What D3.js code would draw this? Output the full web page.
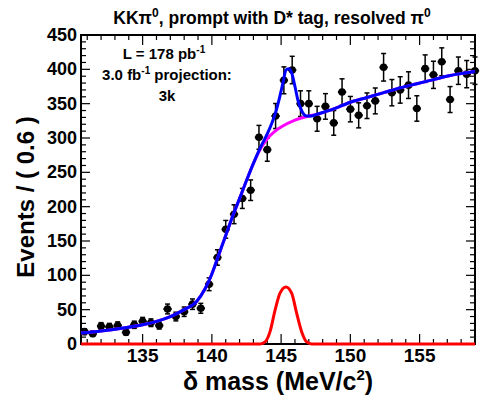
<!DOCTYPE html>
<html>
<head>
<meta charset="utf-8">
<script src="https://cdn.jsdelivr.net/npm/d3@7"></script>
<style>
  body { margin: 0; background: #fff; }
  svg { display: block; font-family: "Liberation Sans", Arial, Helvetica, sans-serif; font-weight: bold; }
</style>
</head>
<body>
<div id="chart"></div>
<script>
// bin centres (MeV) and event counts per 0.6 MeV bin
const binCenters = [130.8, 131.4, 132.0, 132.6, 133.2, 133.8, 134.4, 135.0, 135.6, 136.2,
  136.8, 137.4, 138.0, 138.6, 139.2, 139.8, 140.4, 141.0, 141.6, 142.2,
  142.8, 143.4, 144.0, 144.6, 145.2, 145.8, 146.4, 147.0, 147.6, 148.2,
  148.8, 149.4, 150.0, 150.6, 151.2, 151.8, 152.4, 153.0, 153.6, 154.2,
  154.8, 155.4, 156.0, 156.6, 157.2, 157.8, 158.4, 159.0];
const counts = [18, 15, 26, 25, 27, 17, 28, 33, 31, 27,
  51, 40, 47, 58, 52, 87, 126, 167, 189, 212,
  224, 301, 283, 332, 384, 399, 350, 350, 328, 346,
  322, 367, 342, 333, 347, 354, 403, 366, 370, 377,
  343, 401, 392, 411, 356, 398, 393, 398];

// background curve (magenta)
const bkgX = [130.55, 132, 133.5, 135, 136, 137, 138, 138.9, 139.5, 140, 140.5, 141, 141.5,
  142, 142.5, 143, 143.5, 144, 144.5, 145, 146, 147, 147.5, 148.75, 150, 151.2,
  152.4, 153.6, 154.8, 156, 157.2, 158.4, 159];
const bkgY = [16, 19, 23, 28, 33, 40, 50, 62, 80, 102, 130, 158, 186,
  212, 238, 263, 284, 299, 309, 316, 326, 332, 334, 342, 352, 359,
  366, 373, 379, 385, 391, 395, 397];

// total fit (blue)
const totX = [130.55, 132, 133.5, 135, 136, 137, 138, 138.9, 139.5, 140, 140.5, 141, 141.5,
  142, 142.5, 143, 143.5, 144.0, 144.3, 144.6, 144.9, 145.15, 145.35, 145.55, 145.76,
  146.0, 146.2, 146.5, 146.85, 147.2, 147.5, 148.75, 150, 151.2,
  152.4, 153.6, 154.8, 156, 157.2, 158.4, 159];
const totY = [16, 19, 23, 28, 33, 40, 50, 62, 80, 102, 130, 158, 186,
  212, 238, 263, 286, 306, 320, 337, 360, 382, 399, 401, 395,
  375, 356, 339, 332, 332, 334, 342, 352, 359,
  366, 373, 379, 385, 391, 395, 397];

// signal curve (red)
const sigX = [130.55, 143.5, 143.84, 144.2, 144.56, 144.92, 145.35, 145.76, 146.12, 146.48, 146.85, 147.2, 159];
const sigY = [0, 0, 3, 18, 49, 74, 83, 74, 45, 18, 3, 0, 0];

const yTicks = [0, 50, 100, 150, 200, 250, 300, 350, 400, 450];
const xTicks = [135, 140, 145, 150, 155];
const binWidth = 0.6;

const W = 480, H = 396;
const margin = {top: 35, right: 5, bottom: 52, left: 81};
const width = W - margin.left - margin.right;
const height = H - margin.top - margin.bottom;

const svg = d3.select('#chart').append('svg')
  .attr('width', W)
  .attr('height', H);

const x = d3.scaleLinear().domain([130.55, 159.0]).range([0, width]);
const y = d3.scaleLinear().domain([0, 450]).range([height, 0]);

const g = svg.append('g')
  .attr('transform', `translate(${margin.left},${margin.top})`);

// title
svg.append('text')
  .attr('x', 272).attr('y', 24)
  .attr('text-anchor', 'middle')
  .style('font-size', '17.5px')
  .html('KK&#960;<tspan dy="-7" font-size="12px">0</tspan><tspan dy="7">, prompt with D* tag, resolved &#960;</tspan><tspan dy="-7" font-size="12px">0</tspan>');

// ticks (ROOT style, inside the frame on all four sides)
const yMinor = d3.range(0, 451, 10);
const xMinor = d3.range(131, 160, 1);

g.selectAll('.ytick').data(yMinor).enter().append('line')
  .attr('x1', 0).attr('x2', d => yTicks.includes(d) ? 9 : 5)
  .attr('y1', d => y(d)).attr('y2', d => y(d))
  .attr('stroke', '#000').attr('stroke-width', 1.2);
g.selectAll('.ytickr').data(yMinor).enter().append('line')
  .attr('x1', width).attr('x2', d => width - (yTicks.includes(d) ? 9 : 5))
  .attr('y1', d => y(d)).attr('y2', d => y(d))
  .attr('stroke', '#000').attr('stroke-width', 1.2);
g.selectAll('.xtick').data(xMinor).enter().append('line')
  .attr('x1', d => x(d)).attr('x2', d => x(d))
  .attr('y1', height).attr('y2', d => height - (xTicks.includes(d) ? 10 : 5))
  .attr('stroke', '#000').attr('stroke-width', 1.2);
g.selectAll('.xtickt').data(xMinor).enter().append('line')
  .attr('x1', d => x(d)).attr('x2', d => x(d))
  .attr('y1', 0).attr('y2', d => xTicks.includes(d) ? 10 : 5)
  .attr('stroke', '#000').attr('stroke-width', 1.2);

// tick labels
g.selectAll('.ylab').data(yTicks).enter().append('text')
  .attr('x', -4).attr('y', d => y(d) + 6)
  .attr('text-anchor', 'end')
  .style('font-size', '18px')
  .text(d => d);
g.selectAll('.xlab').data(xTicks).enter().append('text')
  .attr('x', d => x(d)).attr('y', height + 18)
  .attr('text-anchor', 'middle')
  .style('font-size', '19px')
  .text(d => d);

// axis titles
svg.append('text')
  .attr('x', 278).attr('y', 390)
  .attr('text-anchor', 'middle')
  .style('font-size', '25px')
  .html('&#948; mass (MeV/c<tspan dy="-10" font-size="15px">2</tspan><tspan dy="10">)</tspan>');
svg.append('text')
  .attr('transform', 'translate(34,197) rotate(-90)')
  .attr('text-anchor', 'middle')
  .style('font-size', '24px')
  .text('Events / ( 0.6 )');

// data points
const pts = binCenters.map((c, i) => ({x: c, n: counts[i], e: Math.sqrt(counts[i])}));
const dots = g.append('g').attr('class', 'data');
dots.selectAll('.ey').data(pts).enter().append('line')
  .attr('x1', d => x(d.x)).attr('x2', d => x(d.x))
  .attr('y1', d => y(d.n - d.e)).attr('y2', d => y(d.n + d.e))
  .attr('stroke', '#000').attr('stroke-width', 1.5);
['lo', 'hi'].forEach(k => {
  dots.selectAll('.cap' + k).data(pts).enter().append('line')
    .attr('x1', d => x(d.x) - 2.5).attr('x2', d => x(d.x) + 2.5)
    .attr('y1', d => y(k === 'lo' ? d.n - d.e : d.n + d.e))
    .attr('y2', d => y(k === 'lo' ? d.n - d.e : d.n + d.e))
    .attr('stroke', '#000').attr('stroke-width', 1.5);
});
dots.selectAll('.ex').data(pts).enter().append('line')
  .attr('x1', d => x(d.x - binWidth / 2)).attr('x2', d => x(d.x + binWidth / 2))
  .attr('y1', d => y(d.n)).attr('y2', d => y(d.n))
  .attr('stroke', '#000').attr('stroke-width', 2);
dots.selectAll('circle').data(pts).enter().append('circle')
  .attr('cx', d => x(d.x)).attr('cy', d => y(d.n))
  .attr('r', 3.8).attr('fill', '#000');

// frame
g.append('rect')
  .attr('width', width).attr('height', height)
  .attr('fill', 'none').attr('stroke', '#000').attr('stroke-width', 2);

// fit curves
const curve = (xs, ys) => d3.line()
  .x(i => x(xs[i])).y(i => y(ys[i]))
  .curve(d3.curveMonotoneX)(d3.range(xs.length));

g.append('path').attr('d', curve(bkgX, bkgY))
  .attr('fill', 'none').attr('stroke', '#ff00ff').attr('stroke-width', 3);
g.append('path').attr('d', curve(totX, totY))
  .attr('fill', 'none').attr('stroke', '#0000ff').attr('stroke-width', 3);
g.append('path').attr('d', curve(sigX, sigY))
  .attr('fill', 'none').attr('stroke', '#ff0000').attr('stroke-width', 3);

// luminosity text
const info = g.append('g').style('font-size', '15px').attr('text-anchor', 'middle');
info.append('text').attr('x', 164 - margin.left).attr('y', 59 - margin.top)
  .html('L = 178 pb<tspan dy="-6" font-size="10px">-1</tspan>');
info.append('text').attr('x', 167 - margin.left).attr('y', 80 - margin.top)
  .html('3.0 fb<tspan dy="-6" font-size="10px">-1</tspan><tspan dy="6"> projection:</tspan>');
info.append('text').attr('x', 167 - margin.left).attr('y', 101 - margin.top)
  .text('3k');
</script>
</body>
</html>
